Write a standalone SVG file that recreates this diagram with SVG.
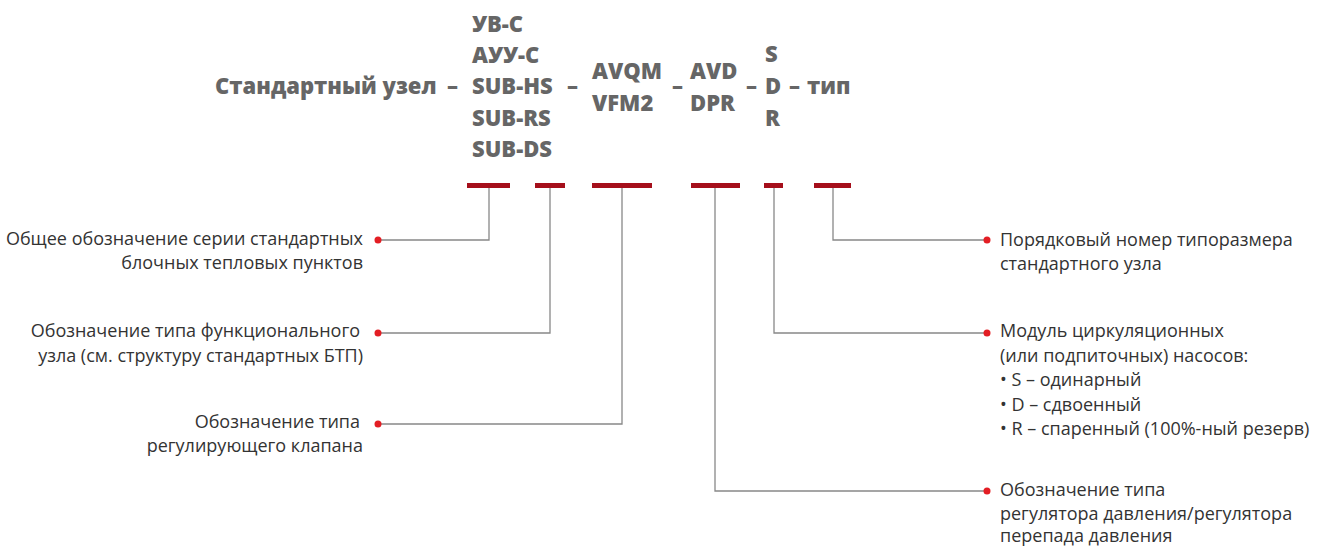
<svg xmlns="http://www.w3.org/2000/svg" width="1322" height="546" viewBox="0 0 1322 546">
<style>
.h{font-family:"Open Sans","Liberation Sans",sans-serif;font-weight:800;font-size:22px;fill:#666}
.t{font-family:"Open Sans","Liberation Sans",sans-serif;font-size:18px;fill:#333}
.l{fill:none;stroke:#888;stroke-width:1.3}
.b{fill:#a50f1b}
.d{fill:#e31e24}
</style>
<rect width="1322" height="546" fill="#fff"/>
<g id="header">
<text class="h" x="215" y="94">Стандартный узел</text>
<text class="h" x="447" y="94">–</text>
<text class="h" x="472" y="32">УВ-С</text>
<text class="h" x="472" y="63">АУУ-С</text>
<text class="h" x="472" y="94">SUB-HS</text>
<text class="h" x="472" y="126">SUB-RS</text>
<text class="h" x="472" y="157">SUB-DS</text>
<text class="h" x="567" y="94">–</text>
<text class="h" x="592" y="79">AVQM</text>
<text class="h" x="592" y="111">VFM2</text>
<text class="h" x="672" y="94">–</text>
<text class="h" x="690" y="79">AVD</text>
<text class="h" x="690" y="111">DPR</text>
<text class="h" x="746" y="94">–</text>
<text class="h" x="765" y="62">S</text>
<text class="h" x="765" y="94">D</text>
<text class="h" x="765" y="126">R</text>
<text class="h" x="789" y="94">–</text>
<text class="h" x="807" y="94">тип</text>
</g>
<g id="bars">
<rect class="b" x="467" y="183" width="43" height="5"/>
<rect class="b" x="535" y="183" width="30" height="5"/>
<rect class="b" x="592" y="183" width="60" height="5"/>
<rect class="b" x="691" y="183" width="49" height="5"/>
<rect class="b" x="764" y="183" width="19" height="5"/>
<rect class="b" x="814" y="183" width="37" height="5"/>
</g>
<g id="connectors">
<polyline class="l" points="489,188 489,240 378,240"/>
<polyline class="l" points="550,188 550,333 378,333"/>
<polyline class="l" points="622,188 622,424 378,424"/>
<polyline class="l" points="833,188 833,240 987,240"/>
<polyline class="l" points="774,188 774,333 987,333"/>
<polyline class="l" points="715,188 715,491 987,491"/>
<circle class="d" cx="378" cy="240" r="3.5"/>
<circle class="d" cx="378" cy="333" r="3.5"/>
<circle class="d" cx="378" cy="424" r="3.5"/>
<circle class="d" cx="987" cy="240" r="3.5"/>
<circle class="d" cx="987" cy="333" r="3.5"/>
<circle class="d" cx="987" cy="491" r="3.5"/>
</g>
<g id="label-series">
<text class="t" x="363" y="245" text-anchor="end">Общее обозначение серии стандартных</text>
<text class="t" x="363" y="269" text-anchor="end">блочных тепловых пунктов</text>
</g>
<g id="label-func">
<text class="t" x="360" y="337" text-anchor="end">Обозначение типа функционального</text>
<text class="t" x="363" y="362" text-anchor="end">узла (см. структуру стандартных БТП)</text>
</g>
<g id="label-valve">
<text class="t" x="360" y="428" text-anchor="end">Обозначение типа</text>
<text class="t" x="363" y="452" text-anchor="end">регулирующего клапана</text>
</g>
<g id="label-size">
<text class="t" x="1000" y="246">Порядковый номер типоразмера</text>
<text class="t" x="1000" y="270">стандартного узла</text>
</g>
<g id="label-pumps">
<text class="t" x="1000" y="337">Модуль циркуляционных</text>
<text class="t" x="1000" y="362">(или подпиточных) насосов:</text>
<text class="t" x="1000" y="386">• S – одинарный</text>
<text class="t" x="1000" y="411">• D – сдвоенный</text>
<text class="t" x="1000" y="435">• R – спаренный (100%-ный резерв)</text>
</g>
<g id="label-regulator">
<text class="t" x="1000" y="496">Обозначение типа</text>
<text class="t" x="1000" y="520">регулятора давления/регулятора</text>
<text class="t" x="1000" y="542">перепада давления</text>
</g>
</svg>
